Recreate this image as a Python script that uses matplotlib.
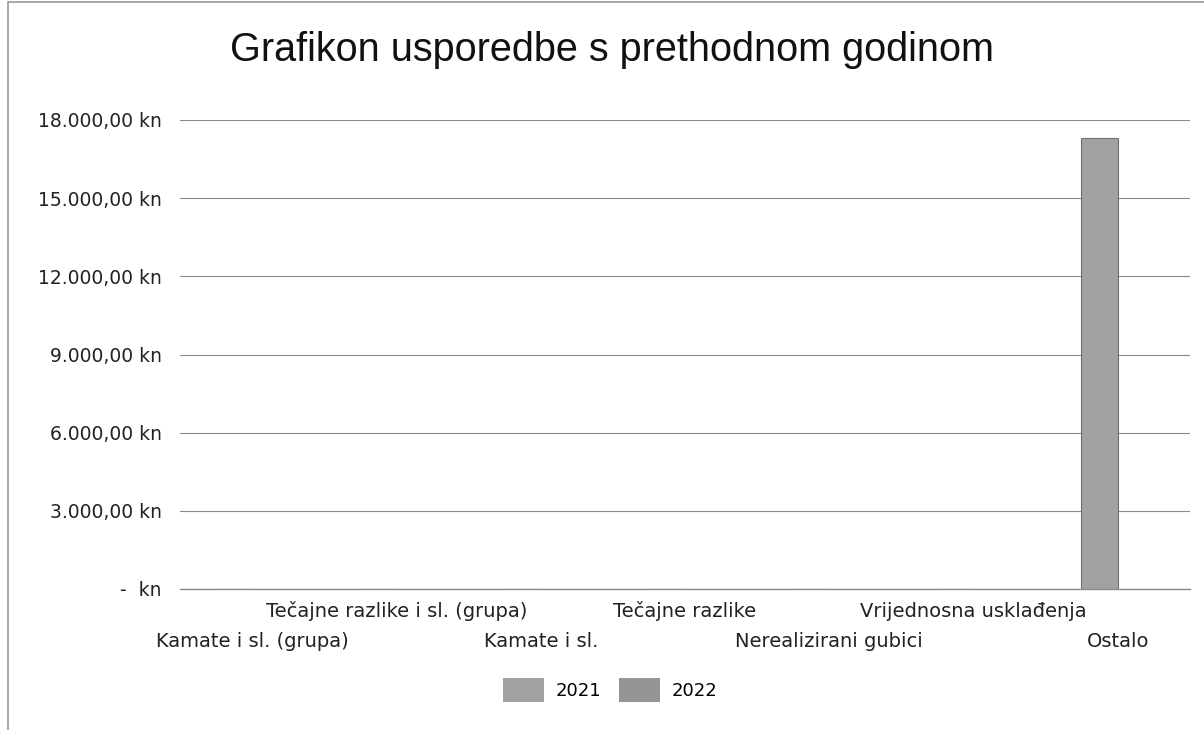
import matplotlib.pyplot as plt
from matplotlib.patches import Rectangle, Patch

# podaci
kategorije = ['Kamate i sl. (grupa)', 'Tečajne razlike i sl. (grupa)', 'Kamate i sl.',
              'Tečajne razlike', 'Nerealizirani gubici', 'Vrijednosna usklađenja', 'Ostalo']
god_2021 = [0, 0, 0, 0, 0, 0, 17300]
god_2022 = [0, 0, 0, 0, 0, 0, 0]
y_tickovi = [0, 3000, 6000, 9000, 12000, 15000, 18000]

boja_2021 = '#a2a2a2'
boja_2022 = '#959595'

fig = plt.figure(figsize=(12.04, 7.30), dpi=100)
ax = fig.add_axes([180 / 1204, 1 - 589 / 730, 1010 / 1204, (589 - 120) / 730])

# okvir grafikona
fig.patches.append(Rectangle((8 / 1204, -0.1), 1.2, 1.1 - 2 / 730, transform=fig.transFigure,
                             fill=False, edgecolor='#9a9a9a', linewidth=1.2))

x = list(range(len(kategorije)))
sirina = 0.256
ax.bar([i - sirina / 2 for i in x], god_2021, width=sirina, color=boja_2021,
       edgecolor='#707070', linewidth=0.8, label='2021', zorder=3)
ax.bar([i + sirina / 2 for i in x], god_2022, width=sirina, color=boja_2022,
       linewidth=0, label='2022', zorder=3)

ax.set_xlim(-0.5, len(kategorije) - 0.5)
ax.set_ylim(0, 18000)
ax.set_yticks(y_tickovi)


def fmt(v):
    if v == 0:
        return '-  kn'
    s = f'{v:,.2f}'.replace(',', 'X').replace('.', ',').replace('X', '.')
    return s + ' kn'


ax.set_yticklabels([fmt(v) for v in y_tickovi], fontsize=13.5, color='#222222',
                   family='DejaVu Sans')
ax.tick_params(axis='y', length=0, pad=13)
ax.grid(axis='y', color='#8a8a8a', linewidth=0.8, zorder=0)
ax.axhline(0, color='#8a8a8a', linewidth=1.0, zorder=4, clip_on=False)
for s in ax.spines.values():
    s.set_visible(False)

# kategorije u dva reda
ax.set_xticks(x)
ax.set_xticklabels([])
ax.tick_params(axis='x', length=0)
for i, k in enumerate(kategorije):
    red = 0 if i % 2 == 1 else 1
    ax.text(i, -0.047 - red * 0.064, k, transform=ax.get_xaxis_transform(),
            ha='center', va='center', fontsize=14, color='#222222', family='DejaVu Sans')

fig.suptitle('Grafikon usporedbe s prethodnom godinom', x=612 / 1204, y=1 - 50 / 730,
             va='center', fontsize=28.5, family='Liberation Sans', color='#111111')

rucke = [Patch(facecolor=boja_2021), Patch(facecolor=boja_2022)]
fig.legend(rucke, ['2021', '2022'], loc='center', bbox_to_anchor=(610 / 1204, 1 - 690 / 730),
           ncol=2, frameon=False, fontsize=13, handlelength=2.3, handleheight=1.6,
           columnspacing=1.0, handletextpad=0.6)

fig.savefig('out.png', dpi=100, facecolor='white')
